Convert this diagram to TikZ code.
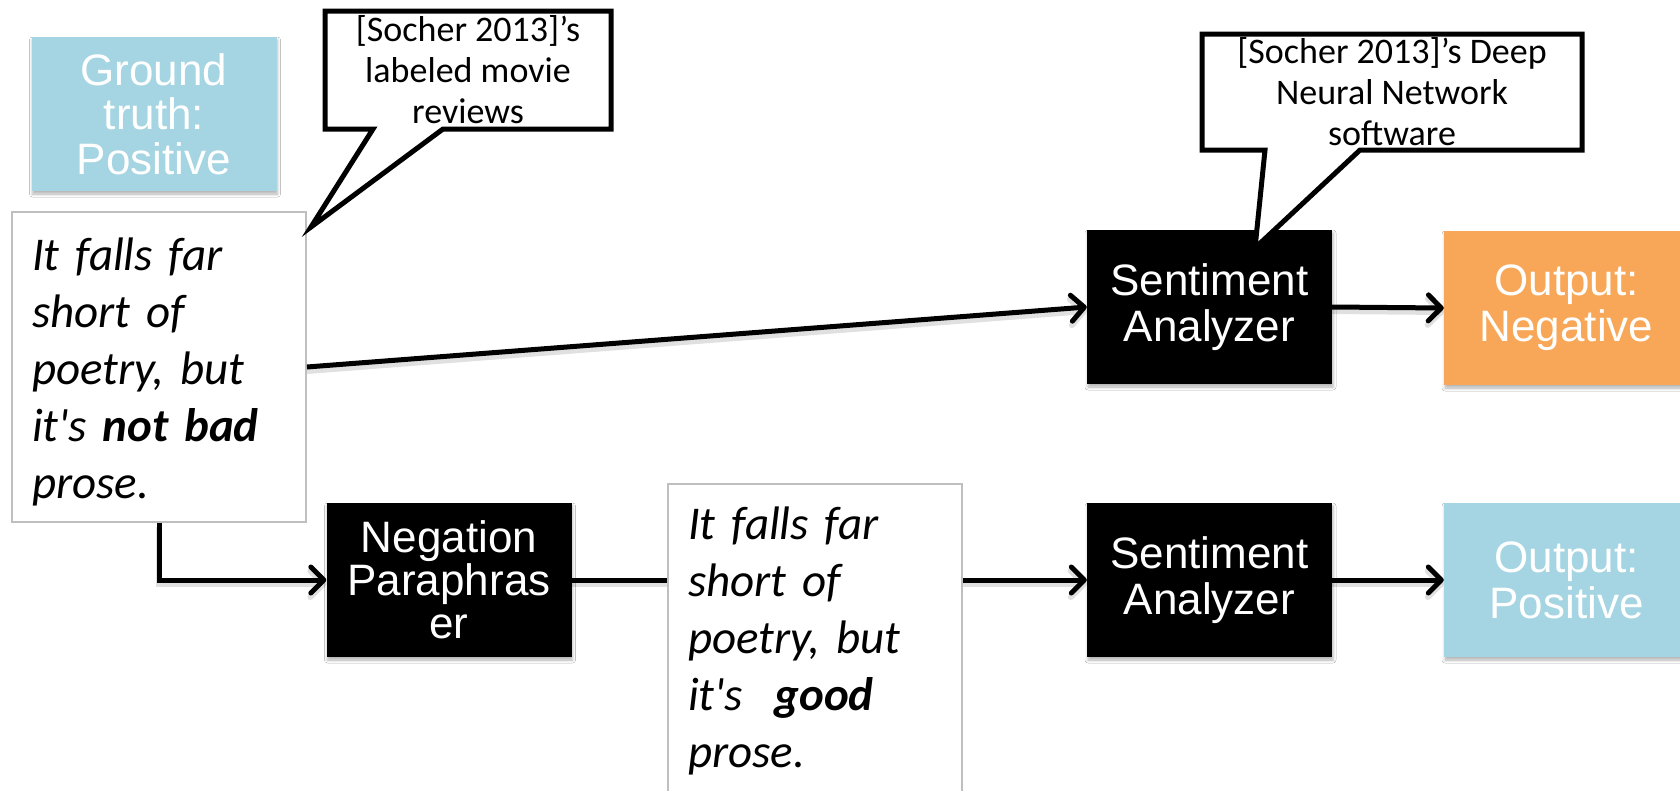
\documentclass[tikz,border=0pt]{standalone}
\usepackage{fontspec}
\setmainfont{Carlito}
\newfontfamily\sentfont{Carlito}
\newfontfamily\arialfont{Liberation Sans}
\usetikzlibrary{arrows.meta,calc,shadows.blur}
\definecolor{skyfill}{RGB}{165,213,226}
\definecolor{orangefill}{RGB}{247,167,87}
\definecolor{boxgray}{RGB}{191,191,191}

\begin{document}
\begin{tikzpicture}[x=1pt,y=-1pt,
  box/.style={rectangle, minimum width=245pt, minimum height=154pt,
    inner sep=0pt, align=center, text=white,
    font=\arialfont\fontsize{44}{46}\selectfont,
    blur shadow={shadow xshift=1pt, shadow yshift=-3pt,
      shadow blur radius=3pt, shadow opacity=30}},
  process/.style={box, fill=black},
  goodbox/.style={box, fill=skyfill},
  badbox/.style={box, fill=orangefill},
  sentence/.style={rectangle, draw=boxgray, line width=2pt, fill=white,
    inner xsep=20pt, inner ysep=0pt, text width=254pt, align=left,
    font=\sentfont\fontsize{47}{57}\selectfont\itshape},
  wire shadow/.style={preaction={draw=black, opacity=0.12, line width=6pt,
    transform canvas={yshift=-4pt}}},
  flow/.style={line width=5pt, wire shadow,
    -{Straight Barb[length=13pt,width=26pt,round]}},
  link/.style={line width=5pt, wire shadow},
  callout/.style={draw=black, line width=5pt, fill=white, line join=miter},
  callout text/.style={align=center, inner sep=0pt,
    font=\fontsize{36}{41}\selectfont}
]
\useasboundingbox (0,0) rectangle (1680,790);
\fill[white] (0,0) rectangle (1680,790);

% label of the example sentence
\node[goodbox, font=\arialfont\fontsize{44}{44.5}\selectfont] (truth) at (154,114)
  {Ground\\truth:\\Positive};

% original sentence
\node[sentence, anchor=north west] (orig) at (11,211)
  {\rule{0pt}{58pt}It falls far\\short of\\poetry, but\\it's \textbf{not bad}\\\rule[-24pt]{0pt}{24pt}prose.};

% upper path: direct analysis
\node[process] (sa1) at (1209.5,307) {Sentiment\\Analyzer};
\node[badbox] (neg) at (1566.5,308) {Output:\\Negative};

% lower path: paraphrase, then analysis
\node[process, font=\arialfont\fontsize{44}{43}\selectfont] (para) at (449,580)
  {Negation\\Paraphras\\er};
\node[sentence, anchor=north west] (para text) at (667,483)
  {\rule{0pt}{55pt}It falls far\\short of\\poetry, but\\it's\ \ \textbf{good}\\\rule[-60pt]{0pt}{60pt}prose.};
\node[process] (sa2) at (1209.5,580) {Sentiment\\Analyzer};
\node[goodbox] (pos) at (1566.5,580) {Output:\\Positive};

% connectors
\draw[flow] (orig.east) -- (sa1.west);
\draw[flow] (sa1.east) -- (neg.west);
\draw[flow] (orig.south) |- (para.west);
\draw[link] (para.east) -- (para.east -| para text.west);
\draw[flow] (sa2.west -| para text.east) -- (sa2.west);
\draw[flow] (sa2.east) -- (pos.west);

% callout on the data source
\coordinate (ca nw) at (325,11);
\coordinate (ca se) at (611,129);
\coordinate (ca tip) at (311,227);
\draw[callout] (ca nw) -- (ca nw -| ca se) -- (ca se)
  -- ($(ca nw |- ca se)+(118,0)$) -- (ca tip)
  -- ($(ca nw |- ca se)+(48,0)$) -- (ca nw |- ca se) -- cycle;
\node[callout text] (ca) at ($(ca nw)!0.5!(ca se)$)
  {[Socher 2013]’s\\labeled movie\\reviews};

% callout on the analyzer
\coordinate (cb nw) at (1202,34);
\coordinate (cb se) at (1582,150);
\coordinate (cb tip) at (1255,248);
\draw[callout] (cb nw) -- (cb nw -| cb se) -- (cb se)
  -- ($(cb nw |- cb se)+(158,0)$) -- (cb tip)
  -- ($(cb nw |- cb se)+(63,0)$) -- (cb nw |- cb se) -- cycle;
\node[callout text] (cb) at ($(cb nw)!0.5!(cb se)$)
  {[Socher 2013]’s Deep\\Neural Network\\software};
\end{tikzpicture}
\end{document}
